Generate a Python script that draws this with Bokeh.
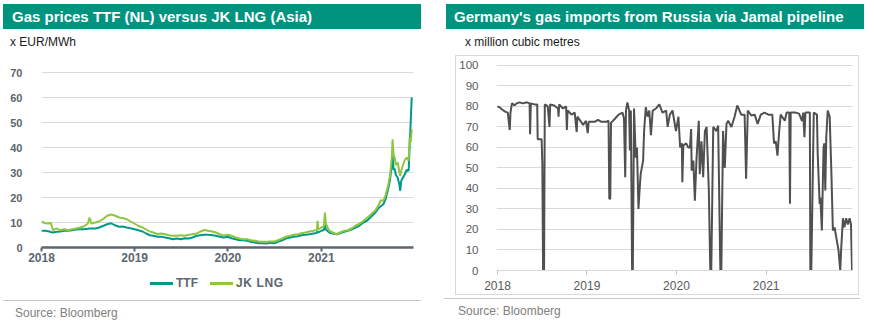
import pandas as pd
from bokeh.plotting import figure
from bokeh.models import Div, FixedTicker, DatetimeTickFormatter
from bokeh.layouts import row, column
from bokeh.embed import file_html
from bokeh.resources import INLINE

FONT = "Liberation Sans"

# ---------------- Left chart data: gas prices (EUR/MWh) ----------------
# semi-monthly base points 2018-01-01 .. 2021-08-15
base_dates = pd.date_range("2018-01-01", "2021-08-15", freq="SMS")
jk_base = [
    10.4, 9.7, 9.6, 6.9, 7.7, 6.9, 7.3, 6.9, 7.3, 7.6, 8.0, 8.4,
    9.5, 9.6, 10.0, 10.5, 11.5, 12.7, 13.2, 12.8, 12.0, 11.8, 11.3, 10.5,
    9.5, 8.7, 8.0, 7.2, 6.4, 6.0, 5.4, 5.6, 5.3, 4.9, 4.7, 4.7,
    4.9, 4.7, 5.1, 5.3, 5.6, 6.4, 7.0, 6.7, 6.4, 6.0, 5.3, 4.8,
    5.1, 4.7, 4.0, 3.6, 3.3, 3.3, 2.9, 2.7, 2.4, 2.3, 2.3, 2.4,
    2.4, 2.9, 3.6, 4.3, 4.7, 5.1, 5.3, 5.7, 6.0, 6.4, 6.7, 7.3,
    8.0, 14.0, 6.7, 6.0, 5.3, 6.0, 6.7, 6.9, 7.7, 8.7, 9.6, 10.7,
    12.0, 13.3, 14.9, 17.3,
]
ttf_base = [
    6.7, 6.7, 6.4, 6.0, 6.3, 6.4, 6.7, 6.7, 6.9, 7.2, 7.3, 7.3,
    7.5, 7.6, 7.6, 8.0, 8.7, 9.3, 9.7, 8.9, 8.3, 8.4, 8.0, 7.7,
    7.3, 6.9, 6.4, 5.6, 4.9, 4.7, 4.3, 4.3, 4.0, 3.7, 3.3, 3.6,
    3.3, 3.7, 3.6, 4.0, 4.7, 4.9, 5.1, 5.1, 4.9, 4.7, 4.3, 4.0,
    4.3, 3.7, 3.3, 2.9, 2.9, 2.7, 2.3, 2.0, 1.7, 1.7, 1.6, 1.9,
    1.7, 2.3, 2.9, 3.6, 4.0, 4.3, 4.5, 4.9, 5.1, 5.3, 5.6, 6.0,
    6.7, 9.0, 6.0, 5.6, 5.3, 5.7, 6.3, 6.7, 7.3, 8.0, 8.9, 10.0,
    10.9, 12.3, 14.0, 16.0,
]
# extra points (spikes and the volatile end of 2021)
extra_dates = [
    "2018-02-06", "2018-07-08", "2020-12-14", "2020-12-17", "2020-12-20",
    "2021-01-11", "2021-01-19",
    "2021-08-22", "2021-09-01", "2021-09-10", "2021-09-20", "2021-09-27",
    "2021-10-04", "2021-10-07", "2021-10-11", "2021-10-15", "2021-10-20",
    "2021-10-27", "2021-11-03", "2021-11-06", "2021-11-10", "2021-11-17",
    "2021-11-24", "2021-12-01", "2021-12-09", "2021-12-13", "2021-12-17",
    "2021-12-21",
]
jk_extra = [
    10.0, 12.0, 7.0, 10.7, 7.2,
    8.5, 9.5,
    18.9, 18.7, 21.0, 25.0, 28.7,
    36.0, 43.3, 37.0, 36.0, 33.0,
    34.0, 30.0, 28.7, 30.7, 33.0,
    35.0, 36.0, 34.7, 44.0, 42.0,
    47.3,
]
ttf_extra = [
    6.2, 7.6, 5.8, 6.5, 6.0,
    7.0, 7.2,
    16.5, 17.3, 19.5, 23.5, 27.0,
    33.0, 37.0, 31.0, 31.5, 29.0,
    28.0, 25.0, 22.7, 26.7, 28.0,
    29.3, 31.0, 30.7, 41.0, 50.0,
    60.0,
]

gas = pd.DataFrame({
    "date": list(base_dates) + list(pd.to_datetime(extra_dates)),
    "ttf": ttf_base + ttf_extra,
    "jk": jk_base + jk_extra,
}).sort_values("date")

# ---------------- Right chart data: Jamal flows (mcm) ----------------
jamal_dates = [
    "2018-01-01", "2018-01-10", "2018-01-20", "2018-02-01", "2018-02-12", "2018-02-20", "2018-02-23",
    "2018-03-01", "2018-03-12", "2018-03-20", "2018-04-01", "2018-04-15", "2018-05-01", "2018-05-12",
    "2018-05-14", "2018-05-17", "2018-06-01", "2018-06-12", "2018-06-14", "2018-06-30", "2018-07-03",
    "2018-07-06", "2018-07-10", "2018-07-13", "2018-07-25", "2018-08-01", "2018-08-04", "2018-08-20",
    "2018-09-05", "2018-09-07", "2018-09-10", "2018-09-25", "2018-10-08", "2018-10-11", "2018-10-14",
    "2018-10-30", "2018-11-12", "2018-11-20", "2018-11-23", "2018-12-05", "2018-12-16", "2018-12-28",
    "2019-01-04", "2019-01-08", "2019-02-01", "2019-02-15", "2019-03-01", "2019-03-20", "2019-03-30",
    "2019-04-02", "2019-04-06", "2019-04-09", "2019-04-25", "2019-05-10", "2019-05-26", "2019-06-01",
    "2019-06-06", "2019-06-09", "2019-06-15", "2019-06-22", "2019-06-25", "2019-06-29", "2019-07-04",
    "2019-07-07", "2019-07-12", "2019-07-19", "2019-07-24", "2019-07-30", "2019-08-04", "2019-08-08",
    "2019-08-18", "2019-08-22", "2019-08-29", "2019-09-05", "2019-09-12", "2019-09-19", "2019-09-26",
    "2019-10-10", "2019-10-23", "2019-11-05", "2019-11-20", "2019-11-26", "2019-12-05", "2019-12-16",
    "2019-12-30", "2020-01-09", "2020-01-16", "2020-01-23", "2020-01-25", "2020-01-29", "2020-02-10",
    "2020-02-18", "2020-02-25", "2020-03-01", "2020-03-03", "2020-03-10", "2020-03-16", "2020-03-23",
    "2020-04-01", "2020-04-05", "2020-04-12", "2020-04-19", "2020-04-26", "2020-05-03", "2020-05-12",
    "2020-05-18", "2020-05-22", "2020-05-30", "2020-06-12", "2020-06-19", "2020-06-28", "2020-07-02",
    "2020-07-09", "2020-07-16", "2020-07-23", "2020-07-30", "2020-08-12", "2020-08-25", "2020-09-05",
    "2020-09-21", "2020-10-05", "2020-10-11", "2020-10-18", "2020-11-01", "2020-11-15", "2020-11-27",
    "2020-12-10", "2020-12-25", "2021-01-10", "2021-01-26", "2021-02-02", "2021-02-09", "2021-02-16",
    "2021-02-23", "2021-03-01", "2021-03-18", "2021-03-25", "2021-04-05", "2021-04-08", "2021-04-11",
    "2021-05-01", "2021-05-15", "2021-05-27", "2021-06-01", "2021-06-06", "2021-06-10", "2021-06-28",
    "2021-06-30", "2021-07-04", "2021-07-14", "2021-07-27", "2021-07-30", "2021-08-07", "2021-08-10",
    "2021-08-16", "2021-08-23", "2021-08-26", "2021-08-30", "2021-09-03", "2021-09-09", "2021-09-17",
    "2021-09-24", "2021-09-30", "2021-10-07", "2021-10-14", "2021-10-23", "2021-10-30", "2021-11-03",
    "2021-11-10", "2021-11-16", "2021-11-23", "2021-11-30", "2021-12-07", "2021-12-13", "2021-12-17",
]
jamal_values = [
    80, 79.5, 78.5, 77.5, 77, 68.5, 77,
    81.5, 80.5, 81.5, 82, 81.5, 82, 81.5,
    66.5, 81.5, 81, 81, 64, 64, 52,
    0, 0, 81, 80, 70, 81, 80.5,
    79, 75, 81, 79, 80, 68.5, 78,
    76, 77, 67.5, 75, 73, 71, 73,
    67, 72.5, 72.5, 73.5, 72.5, 72.5, 73,
    35, 35, 72, 74, 76, 77, 74,
    45.5, 78, 82, 78, 58.5, 78, 0,
    0, 79, 55, 60, 30, 40, 47,
    53.6, 68, 79.7, 75, 78, 66, 78,
    79, 81, 77, 78, 70, 76, 78,
    68, 75, 60, 62, 43, 61, 62,
    60, 60, 69, 48.7, 53.6, 34, 55,
    73, 47, 63, 45.5, 68, 70, 39,
    0, 0, 70, 68, 70.7, 0, 0,
    68, 50, 71.5, 73, 70, 75, 80.5,
    76, 76, 44.7, 78, 75.6, 76, 71.5,
    76, 77, 76, 76, 62, 63, 56,
    68, 76, 73, 77, 77, 32.5, 77,
    77, 76.5, 73, 77, 65, 77, 77,
    0, 0, 77, 76, 57, 32.5, 35.6,
    19.5, 60, 62, 39, 65, 78, 75,
    47, 19.5, 21, 16, 9.8, 0, 11,
    25.5, 21, 25.5, 22.4, 25.5, 22.4, 0,
]

left_yticks = [0, 10, 20, 30, 40, 50, 60, 70]
right_yticks = [0, 10, 20, 30, 40, 50, 60, 70, 80, 90, 100]
years = ["2018-01-01", "2019-01-01", "2020-01-01", "2021-01-01"]
year_ms = [pd.Timestamp(y).timestamp() * 1000 for y in years]
legend_labels = ["TTF", "JK LNG"]

TEAL = "#00947F"
TTF_COL = "#00998A"
JK_COL = "#8DC63F"
AX_GREY = "#5B6670"


def box_div(html, width, height, margin, style):
    return Div(
        text=f'<div style="width:{width}px;height:{height}px;box-sizing:border-box;'
             f'white-space:nowrap;overflow:hidden;{style}">{html}</div>',
        width=width, height=height, margin=margin,
    )


fmt = DatetimeTickFormatter(years="%Y", months="%Y", days="%Y", hours="%Y")

# ---------------- Left figure ----------------
p1 = figure(
    width=437, height=213, x_axis_type="datetime",
    x_range=(pd.Timestamp("2018-01-01"), pd.Timestamp("2021-12-28")),
    y_range=(0, 74), output_backend="svg", toolbar_location=None,
    min_border_left=41, min_border_right=24, min_border_top=7, min_border_bottom=21,
)
p1.outline_line_color = None
p1.background_fill_color = "white"
p1.border_fill_color = "white"
p1.line(gas["date"], gas["ttf"], line_color=TTF_COL, line_width=2)
p1.line(gas["date"], gas["jk"], line_color=JK_COL, line_width=2)
p1.xgrid.grid_line_color = None
p1.ygrid.grid_line_color = "#D9D9D9"
p1.ygrid.ticker = FixedTicker(ticks=left_yticks)
p1.yaxis.ticker = FixedTicker(ticks=left_yticks)
p1.yaxis.axis_line_color = None
p1.yaxis.major_tick_line_color = None
p1.yaxis.minor_tick_line_color = None
p1.yaxis.major_label_standoff = 13
p1.yaxis.major_label_text_font = FONT
p1.yaxis.major_label_text_font_style = "bold"
p1.yaxis.major_label_text_font_size = "11px"
p1.yaxis.major_label_text_color = AX_GREY
p1.xaxis.ticker = FixedTicker(ticks=year_ms)
p1.xaxis.formatter = fmt
p1.xaxis.axis_line_color = AX_GREY
p1.xaxis.axis_line_width = 2.5
p1.xaxis.major_tick_line_color = AX_GREY
p1.xaxis.major_tick_line_width = 2
p1.xaxis.major_tick_out = 4
p1.xaxis.major_tick_in = 0
p1.xaxis.minor_tick_line_color = None
p1.xaxis.major_label_standoff = 1
p1.xaxis.major_label_text_font = FONT
p1.xaxis.major_label_text_font_style = "bold"
p1.xaxis.major_label_text_font_size = "12px"
p1.xaxis.major_label_text_color = AX_GREY

# legend row beneath the axis (HTML, same colours as the two lines)
legend_html = (
    f'<div style="position:relative;width:437px;height:32px;font-family:\'{FONT}\';'
    f'font-weight:bold;font-size:12px;color:{AX_GREY};">'
    f'<div style="position:absolute;left:150px;top:14px;width:23px;height:3px;background:{TTF_COL};"></div>'
    f'<div style="position:absolute;left:176px;top:7px;line-height:16px;">{legend_labels[0]}</div>'
    f'<div style="position:absolute;left:210px;top:14px;width:23px;height:3px;background:{JK_COL};"></div>'
    f'<div style="position:absolute;left:236px;top:7px;line-height:16px;letter-spacing:0.6px;">{legend_labels[1]}</div>'
    '</div>'
)
legend_div = Div(text=legend_html, width=437, height=32, margin=(0, 0, 0, 0))

# ---------------- Right figure ----------------
p2 = figure(
    width=404, height=240, x_axis_type="datetime",
    x_range=(pd.Timestamp("2017-12-28"), pd.Timestamp("2021-12-19")),
    y_range=(0, 102.4), output_backend="svg", toolbar_location=None,
    min_border_left=36, min_border_right=8, min_border_top=4, min_border_bottom=26,
    margin=(0, 0, 0, 18), styles={"border": "1px solid #D9D9D9"},
)
p2.outline_line_color = None
p2.background_fill_color = "white"
p2.border_fill_color = "white"
p2.line(pd.to_datetime(jamal_dates), jamal_values, line_color="#505050", line_width=2)
p2.xgrid.grid_line_color = None
p2.ygrid.grid_line_color = "#D9D9D9"
p2.ygrid.ticker = FixedTicker(ticks=right_yticks)
p2.yaxis.ticker = FixedTicker(ticks=right_yticks)
p2.yaxis.axis_line_color = None
p2.yaxis.major_tick_line_color = None
p2.yaxis.minor_tick_line_color = None
p2.yaxis.major_label_standoff = 12
p2.yaxis.major_label_text_font = FONT
p2.yaxis.major_label_text_font_size = "11.5px"
p2.yaxis.major_label_text_color = "#595959"
p2.xaxis.ticker = FixedTicker(ticks=year_ms)
p2.xaxis.formatter = fmt
p2.xaxis.axis_line_color = "#D9D9D9"
p2.xaxis.major_tick_line_color = "#BFBFBF"
p2.xaxis.major_tick_out = 4
p2.xaxis.major_tick_in = 0
p2.xaxis.minor_tick_line_color = None
p2.xaxis.major_label_standoff = 6
p2.xaxis.major_label_text_font = FONT
p2.xaxis.major_label_text_font_size = "12px"
p2.xaxis.major_label_text_color = "#595959"

# ---------------- Texts ----------------
title_style = (f"background:{TEAL};color:#FFFFFF;font-family:'{FONT}';font-weight:bold;"
               "font-size:15px;line-height:25px;")
unit_style = f"color:#1A1A1A;font-family:'{FONT}';font-size:12px;line-height:26px;"
src_style = (f"color:#808080;font-family:'{FONT}';font-size:12px;line-height:24px;"
             "border-top:1px solid #C8C8C8;")

left_col = column(
    box_div("Gas prices TTF (NL) versus JK LNG (Asia)", 418, 25, (4, 0, 0, 3), title_style + "padding-left:9px;"),
    box_div("x EUR/MWh", 437, 26, (0, 0, 0, 0), unit_style + "padding-left:10px;"),
    p1,
    legend_div,
    box_div("Source: Bloomberg", 418, 25, (0, 0, 0, 3), src_style + "padding-left:12px;"),
    spacing=0,
)
right_col = column(
    box_div("Germany's gas imports from Russia via Jamal pipeline", 418, 25, (4, 0, 0, 9), title_style + "padding-left:8px;"),
    box_div("x million cubic metres", 437, 26, (0, 0, 0, 0), unit_style + "padding-left:28px;"),
    p2,
    box_div("Source: Bloomberg", 416, 25, (3, 0, 0, 7), src_style + "padding-left:14px;"),
    spacing=0,
)
layout = row(left_col, right_col, spacing=0)

open("out.html", "w").write(file_html(layout, INLINE))
